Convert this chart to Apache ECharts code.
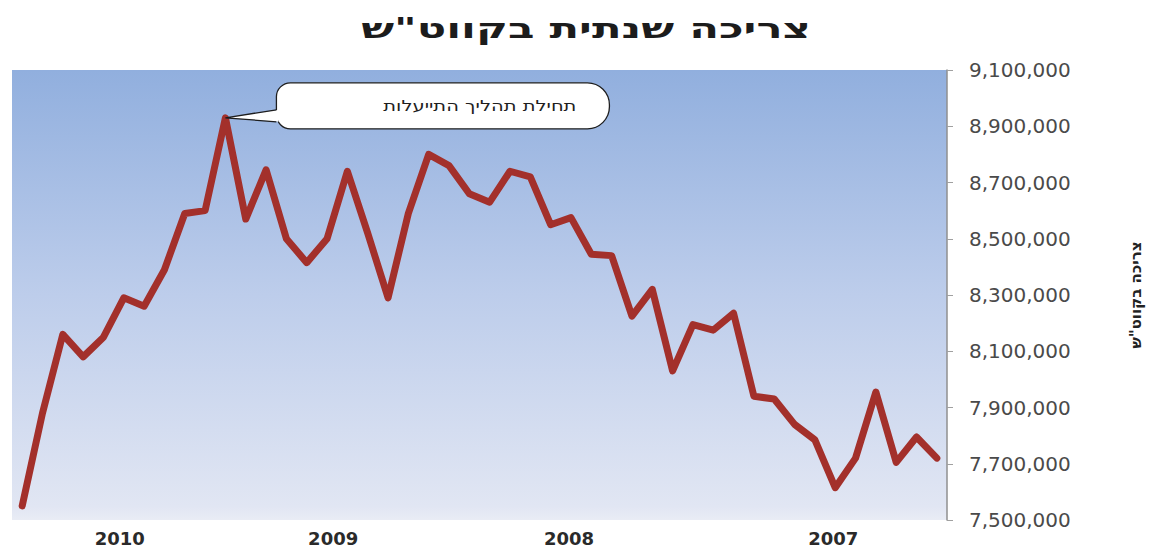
<!DOCTYPE html>
<html lang="he">
<head>
<meta charset="utf-8">
<script src="https://cdn.jsdelivr.net/npm/echarts@6/dist/echarts.min.js"></script>
<style>
  html, body { margin: 0; padding: 0; background: #ffffff; }
  #chart { width: 1149px; height: 550px; }
</style>
</head>
<body>
<div id="chart"></div>
<script>
// Rolling annual consumption (kWh), one reading per month, newest on the left
const consumption = [
  7550000, 7880000, 8160000, 8080000, 8150000, 8290000, 8260000, 8390000,
  8590000, 8600000, 8930000, 8570000, 8745000, 8500000, 8415000, 8500000,
  8740000, 8520000, 8290000, 8590000, 8800000, 8760000, 8660000, 8630000,
  8740000, 8720000, 8550000, 8575000, 8445000, 8440000, 8225000, 8320000,
  8030000, 8195000, 8175000, 8235000, 7940000, 7930000, 7840000, 7785000,
  7615000, 7720000, 7955000, 7705000, 7795000, 7720000
];

// Year captions along the bottom and where they sit on the month scale
const yearLabels = ['2010', '2009', '2008', '2007'];
const yearPositions = [4.8, 15.3, 26.9, 39.9];

// Consumption scale on the right
const yMin = 7500000;
const yMax = 9100000;
const yStep = 200000;

// Annotated month: start of the efficiency programme
const peakIndex = 10;
const calloutText = 'תחילת תהליך התייעלות';

const titleText = 'צריכה שנתית בקווט"ש';
const axisTitle = 'צריכה בקווט"ש';

// SVG output keeps the Hebrew strings in proper right-to-left order
const chart = echarts.init(document.getElementById('chart'), null, { renderer: 'svg' });

const fmt = v => String(Math.round(v)).replace(/\B(?=(\d{3})+(?!\d))/g, ',');

chart.setOption({
  animation: false,
  backgroundColor: '#ffffff',
  grid: {
    left: 12,
    right: 202,
    top: 70,
    bottom: 30,
    containLabel: false,
    outerBoundsMode: 'none',
    show: true,
    borderWidth: 0,
    backgroundColor: new echarts.graphic.LinearGradient(0, 0, 0, 1, [
      { offset: 0, color: '#91afde' },
      { offset: 0.5, color: '#bdcdeb' },
      { offset: 0.97, color: '#e1e6f3' },
      { offset: 1, color: '#e9ecf5' }
    ])
  },
  xAxis: {
    type: 'value',
    min: -0.5,
    max: 45.5,
    axisLine: { show: false },
    axisTick: { show: false },
    splitLine: { show: false },
    axisLabel: {
      customValues: yearPositions,
      formatter: v => {
        let best = 0;
        yearPositions.forEach((p, i) => { if (Math.abs(p - v) < Math.abs(yearPositions[best] - v)) best = i; });
        return yearLabels[best];
      },
      margin: 9,
      lineHeight: 18,
      fontFamily: 'DejaVu Sans',
      fontWeight: 'bold',
      fontSize: 18,
      color: '#2a2a2a'
    }
  },
  yAxis: {
    type: 'value',
    position: 'right',
    min: yMin,
    max: yMax,
    interval: yStep,
    name: axisTitle,
    nameLocation: 'middle',
    nameRotate: 90,
    nameGap: 181,
    nameTextStyle: {
      fontFamily: 'DejaVu Sans',
      fontWeight: 'bold',
      fontSize: 15,
      color: '#222222',
      padding: [0, 0, 8, 0]
    },
    axisLine: { show: true, onZero: false, lineStyle: { color: '#8f8f8f', width: 1.5 } },
    axisTick: { show: true, inside: false, length: 6, lineStyle: { color: '#a0a0a0' } },
    splitLine: { show: false },
    axisLabel: {
      formatter: fmt,
      margin: 22,
      fontFamily: 'DejaVu Sans',
      fontSize: 20,
      color: '#4a4a4a'
    }
  },
  series: [{
    type: 'line',
    data: consumption.map((v, i) => [i, v]),
    symbol: 'none',
    lineStyle: { color: '#a3302b', width: 7, cap: 'round', join: 'round' },
    z: 3
  }]
});

// Title (wide lettering) and the speech-bubble callout on the annotated month
const [px, py] = chart.convertToPixel({ gridIndex: 0 }, [peakIndex, consumption[peakIndex]]);
const bx = px + 51;
const by = py - 35;
const bw = 333;
const bh = 46;
const t1 = py - 8;
const t2 = py + 4;

chart.setOption({
  graphic: [
    {
      type: 'text',
      x: 586,
      y: 28,
      scaleX: 1.55,
      style: {
        text: titleText,
        align: 'center',
        verticalAlign: 'middle',
        fontFamily: 'DejaVu Sans',
        fontWeight: 'bold',
        fontSize: 28,
        fill: '#1c1c1c'
      }
    },
    {
      type: 'rect',
      shape: { x: bx, y: by, width: bw, height: bh, r: [14, 22, 22, 14] },
      style: { fill: '#ffffff', stroke: '#1e1e1e', lineWidth: 1.3 },
      z: 10
    },
    {
      type: 'polygon',
      shape: { points: [[bx + 2, t1], [px, py], [bx + 2, t2]] },
      style: { fill: '#ffffff', stroke: null },
      z: 11
    },
    {
      type: 'polyline',
      shape: { points: [[bx, t1], [px, py], [bx, t2]] },
      style: { fill: null, stroke: '#1e1e1e', lineWidth: 1.3 },
      z: 12
    },
    {
      type: 'text',
      x: bx + 300,
      y: by + bh / 2,
      scaleX: 1.3,
      style: {
        text: calloutText,
        align: 'right',
        verticalAlign: 'middle',
        fontFamily: 'DejaVu Sans',
        fontSize: 15,
        fill: '#1e1e1e'
      },
      z: 13
    }
  ]
});
</script>
</body>
</html>
